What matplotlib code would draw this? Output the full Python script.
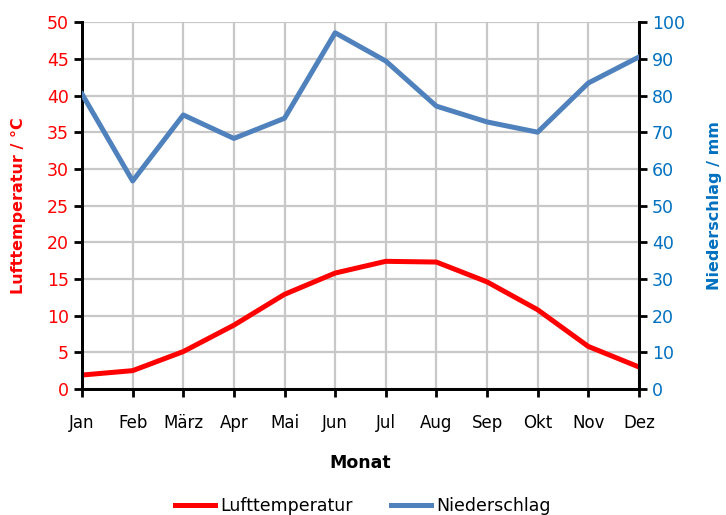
import matplotlib
matplotlib.use('Agg')
import matplotlib.pyplot as plt
import numpy as np

months=['Jan','Feb','März','Apr','Mai','Jun','Jul','Aug','Sep','Okt','Nov','Dez']
temp=[1.9,2.5,5.1,8.7,12.9,15.8,17.4,17.3,14.6,10.8,5.8,3.0]
rain=[80.4,56.7,74.7,68.3,73.8,97.1,89.4,77.1,72.8,70.0,83.4,90.5]

red='#FF0000'
blue='#4F81BD'
bluetxt='#0070C0'
plt.rcParams['font.family']=['DejaVu Sans']

fig=plt.figure(figsize=(7.26,5.15),dpi=100)
ax=fig.add_axes([0.113,0.2447,0.767,0.7123])
ax2=ax.twinx()
x=np.arange(len(months))
l1,=ax.plot(x,temp,color=red,lw=3.6,label='Lufttemperatur',zorder=3)
l2,=ax2.plot(x,rain,color=blue,lw=3.6,label='Niederschlag',zorder=3)
ax.set_xlim(0,11)
ax.set_ylim(0,50)
ax2.set_ylim(0,100)
ax.set_yticks(np.arange(0,51,5))
ax2.set_yticks(np.arange(0,101,10))
ax.set_xticks(x)
ax.set_xticklabels(months,fontsize=12)
ax.grid(True,color='#C8C8C8',lw=1.6)
ax.set_axisbelow(True)
for a in (ax,ax2):
  a.spines['top'].set_visible(False)
  for s in ('left','right','bottom'):
    a.spines[s].set_linewidth(2)
    a.spines[s].set_color('black')
ax.tick_params(axis='y',colors=red,labelsize=12.5,length=6,width=2,direction='out')
ax.tick_params(axis='y',color='black')
ax.tick_params(axis='x',labelsize=12,length=6,width=2,direction='out',pad=12)
ax2.tick_params(axis='y',labelcolor=bluetxt,color='black',labelsize=12.5,length=6,width=2,direction='out')
ax.set_ylabel('Lufttemperatur / °C',color=red,fontsize=11.5,fontweight='bold')
ax2.set_ylabel('Niederschlag / mm',color=bluetxt,fontsize=11.5,fontweight='bold')
ax.yaxis.set_label_coords(-0.1,0.5)
ax2.yaxis.set_label_coords(1.122,0.5)
ax.set_xlabel('Monat',fontsize=12.5,fontweight='bold',labelpad=16)
fig.legend(handles=[l1,l2],loc='center',bbox_to_anchor=(0.5,0.017),ncol=2,frameon=False,
           fontsize=12.5,handlelength=2.3,columnspacing=2.2,handletextpad=0.3)
fig.savefig('out.png',dpi=100)
